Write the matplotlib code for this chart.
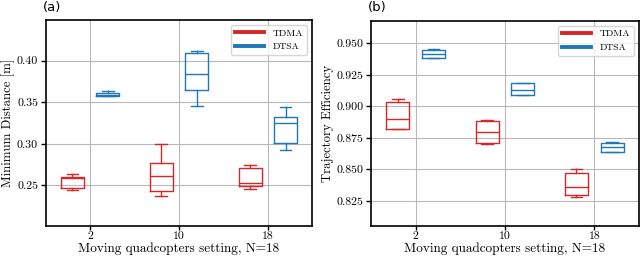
import matplotlib
matplotlib.use("Agg")
import matplotlib.pyplot as plt
from matplotlib.lines import Line2D

plt.rcParams['font.family'] = 'serif'
plt.rcParams['font.serif'] = ['cmr10', 'DejaVu Serif']
plt.rcParams['axes.formatter.use_mathtext'] = True

settings = ['2', '10', '18']
methods = ['TDMA', 'DTSA']
colors = {'TDMA': '#d62728', 'DTSA': '#1f77b4'}

# box stats per setting: whisker low, q1, median, q3, whisker high
mindist = {
    'TDMA': [[0.244, 0.2464, 0.2587, 0.2603, 0.2634],
             [0.2377, 0.2437, 0.261, 0.2765, 0.2999],
             [0.2452, 0.2496, 0.2528, 0.271, 0.275]],
    'DTSA': [[0.357, 0.3573, 0.3592, 0.3616, 0.3636],
             [0.3454, 0.3644, 0.3842, 0.4091, 0.4111],
             [0.292, 0.3014, 0.3256, 0.3319, 0.3438]],
}
efficiency = {
    'TDMA': [[0.882, 0.8824, 0.8904, 0.9038, 0.9057],
             [0.8704, 0.8706, 0.8798, 0.8886, 0.8896],
             [0.8282, 0.8298, 0.8357, 0.8469, 0.8501]],
    'DTSA': [[0.9383, 0.9385, 0.9417, 0.9447, 0.9452],
             [0.9087, 0.9089, 0.9131, 0.9182, 0.9185],
             [0.8635, 0.864, 0.8677, 0.8707, 0.8717]],
}

offsets = {'TDMA': -0.2, 'DTSA': 0.2}


def draw(ax, data, ylabel, ylim, yticks, fmt):
    for m in methods:
        stats = []
        for s in data[m]:
            stats.append(dict(whislo=s[0], q1=s[1], med=s[2], q3=s[3], whishi=s[4], fliers=[]))
        pos = [i + offsets[m] for i in range(len(settings))]
        c = colors[m]
        ax.bxp(stats, positions=pos, widths=0.26, showfliers=False,
               boxprops=dict(color=c, lw=1), whiskerprops=dict(color=c, lw=1),
               capprops=dict(color=c, lw=1), medianprops=dict(color=c, lw=1),
               manage_ticks=False)
    ax.set_xticks(range(len(settings)))
    ax.set_xticklabels(settings)
    ax.set_xlim(-0.5, 2.5)
    ax.set_ylim(*ylim)
    ax.set_yticks(yticks)
    ax.set_yticklabels([fmt % v for v in yticks])
    ax.grid(True, color='#b8b8b8', lw=0.8)
    ax.set_axisbelow(True)
    ax.tick_params(axis='x', length=3, width=1, labelsize=8.5, pad=1.5)
    ax.tick_params(axis='y', length=3.5, width=1, labelsize=8.5, pad=2)
    ax.set_xlabel('Moving quadcopters setting, N=18', fontsize=9.5, labelpad=1)
    ax.set_ylabel(ylabel, fontsize=9.2, labelpad=1.5)
    handles = [Line2D([], [], color=colors[m], lw=2.8) for m in methods]
    ax.legend(handles, methods, loc='upper right', fontsize=7, handlelength=3.0,
              handletextpad=0.9, fancybox=True, framealpha=0.8)
    for sp in ax.spines.values():
        sp.set_linewidth(1.2)


fig = plt.figure(figsize=(6.4, 2.59), dpi=100)
ax1 = fig.add_axes([45.7 / 640, 1 - 225.7 / 259, 266.6 / 640, 205.7 / 259])
ax2 = fig.add_axes([371 / 640, 1 - 225.7 / 259, 268 / 640, 205 / 259])

draw(ax1, mindist, 'Minimum Distance [m]', (0.2014, 0.449),
     [0.25, 0.30, 0.35, 0.40], '%.2f')
draw(ax2, efficiency, 'Trajectory Efficiency', (0.8054, 0.968),
     [0.825, 0.85, 0.875, 0.9, 0.925, 0.95], '%.3f')

fig.text(43 / 640, 1 - 8 / 259, '(a)', family='DejaVu Sans', fontsize=9.5, va='center')
fig.text(368 / 640, 1 - 8 / 259, '(b)', family='DejaVu Sans', fontsize=9.5, va='center')

fig.savefig('out.png', dpi=100)
